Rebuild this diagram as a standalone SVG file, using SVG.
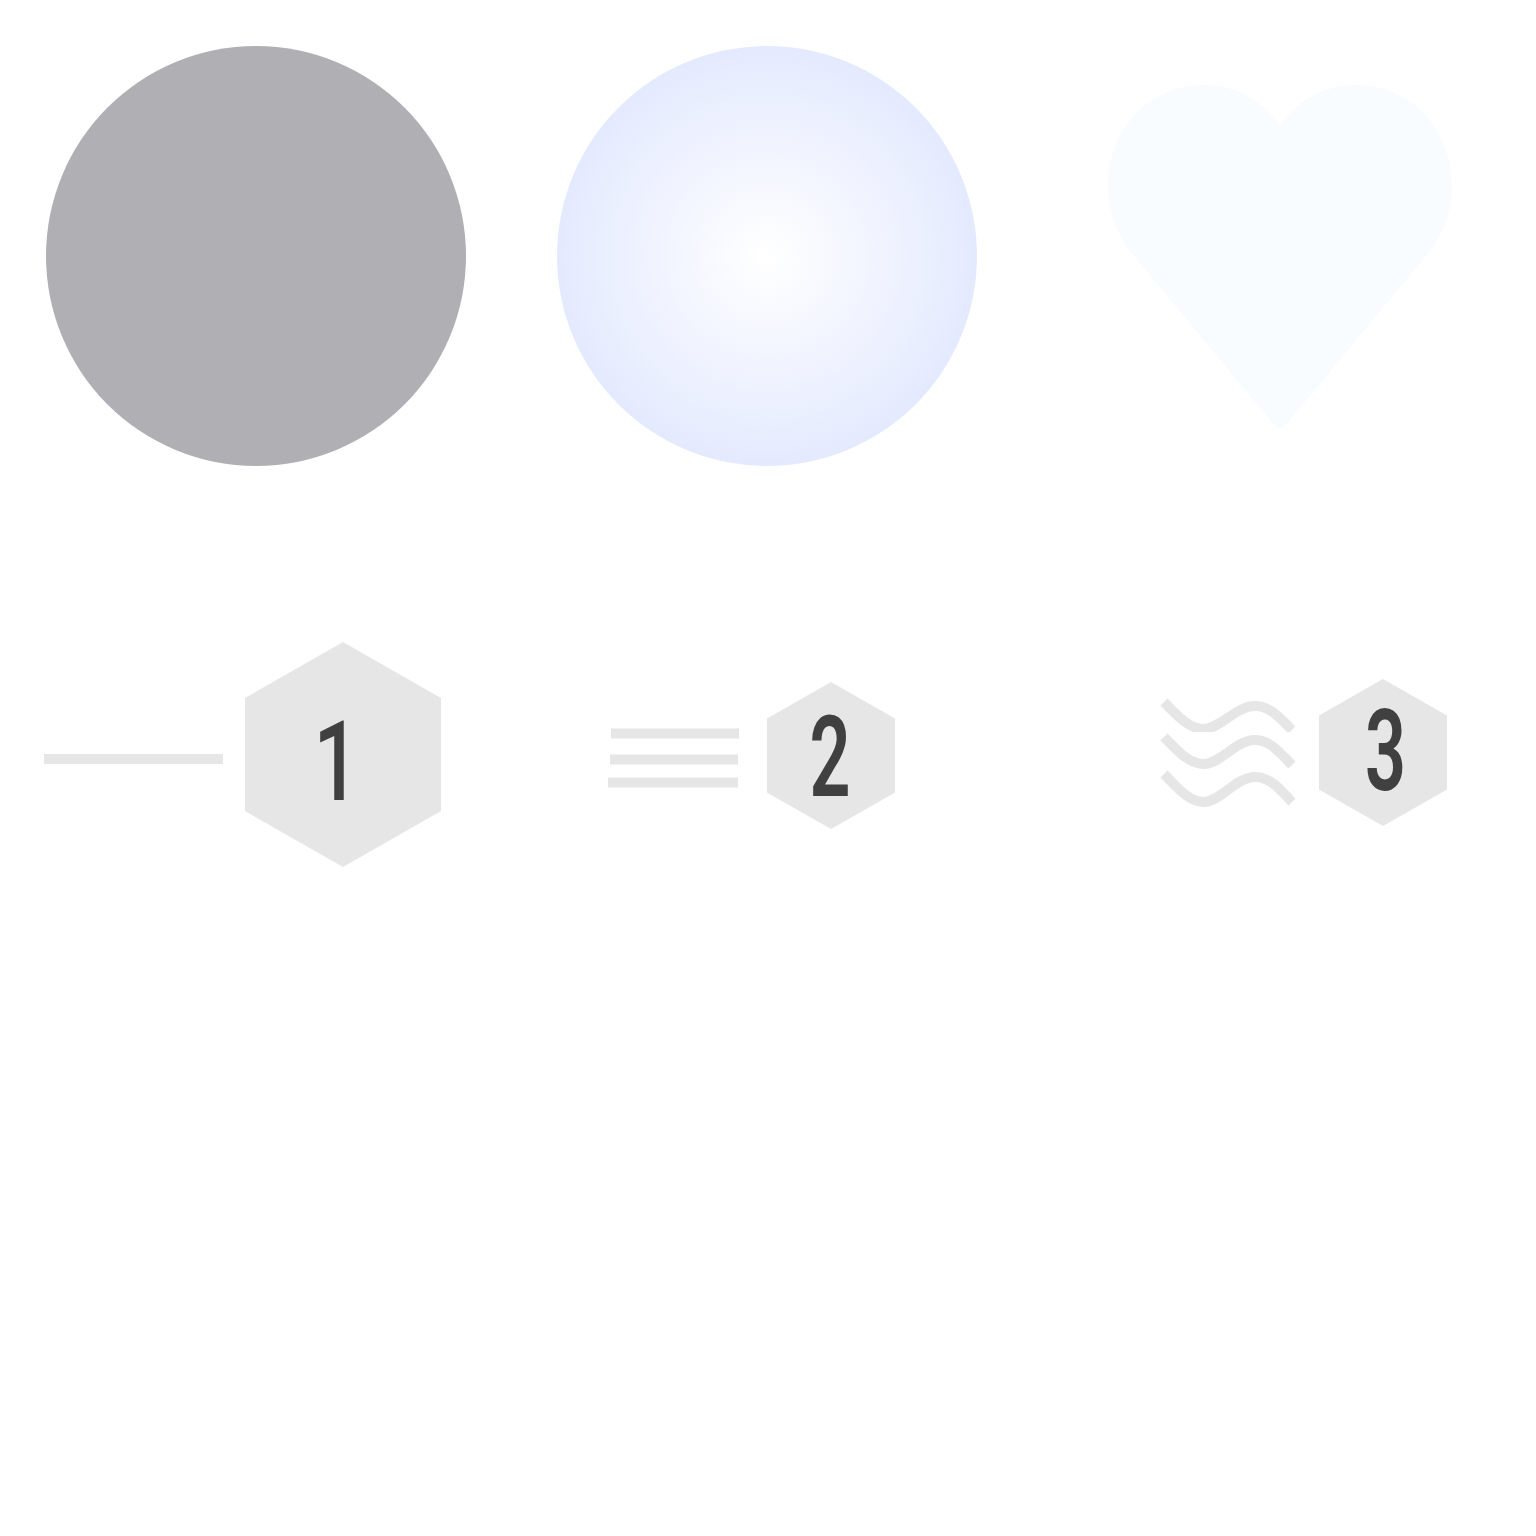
<svg xmlns="http://www.w3.org/2000/svg" width="1536" height="1536" viewBox="0 0 1536 1536">
<style>
.hex{fill:#e6e6e6}
.bar{fill:#e6e6e6}
.wave{fill:none;stroke:#e6e6e6;stroke-width:10}
.num{font-family:"Roboto","Liberation Sans",sans-serif;font-weight:600;font-size:114px;fill:#404040;text-anchor:middle}
</style>
<defs>
<radialGradient id="glow" cx="0.5" cy="0.5" r="0.5">
<stop offset="0" stop-color="#ffffff"/>
<stop offset="1" stop-color="#e4eafe"/>
</radialGradient>
<clipPath id="waveClip"><rect x="1150" y="690" width="160" height="42"/></clipPath>
</defs>
<rect width="1536" height="1536" fill="#ffffff"/>
<g id="circle-grey"><circle cx="256" cy="256" r="210" fill="#b0afb3"/></g>
<g id="circle-blue"><circle cx="767" cy="256" r="210" fill="url(#glow)"/></g>
<g id="heart"><path fill="#f9fcff" d="M1280 125C1262 100 1236 85 1203 85C1148 85 1108 130 1108 186C1108 215 1120 241 1138 261L1275 426Q1280 431 1285 426L1422 261C1440 241 1452 215 1452 186C1452 130 1412 85 1357 85C1324 85 1298 100 1280 125Z"/></g>
<g id="item-1">
<rect class="bar" x="44" y="754" width="179" height="10"/>
<polygon class="hex" points="343,642 441,698 441,811 343,867 245,811 245,698"/>
<text class="num" style="font-weight:500;font-size:112px" transform="translate(336.500 800) scale(0.72 1)">1</text>
</g>
<g id="item-2">
<rect class="bar" x="611" y="728.500" width="128" height="10"/>
<rect class="bar" x="610" y="754.500" width="128" height="10"/>
<rect class="bar" x="608" y="777.500" width="130" height="10"/>
<polygon class="hex" points="831,682 895,718.500 895,792.500 831,829 767,792.500 767,718.500"/>
<text class="num" transform="translate(830 795.500) scale(0.63 1)">2</text>
</g>
<g id="item-3">
<path class="wave" clip-path="url(#waveClip)" d="M1164 702C1176 714 1188 729 1204 729C1220 729 1236 706 1255 706C1270 706 1280 718 1292 730"/>
<path class="wave" d="M1164 737C1176 749 1188 764 1204 764C1220 764 1236 740 1255 740C1270 740 1280 753 1292 765"/>
<path class="wave" d="M1164 774C1176 786 1188 802 1204 802C1220 802 1236 777 1255 777C1270 777 1280 789 1292 802"/>
<polygon class="hex" points="1383,679 1447,715.500 1447,789.500 1383,826 1319,789.500 1319,715.500"/>
<text class="num" transform="translate(1385.500 790) scale(0.63 1)">3</text>
</g>
</svg>
